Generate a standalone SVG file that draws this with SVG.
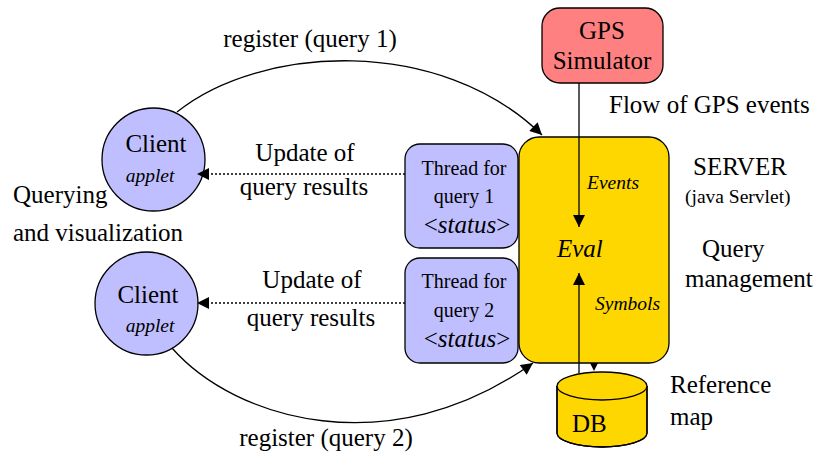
<svg xmlns="http://www.w3.org/2000/svg" width="814" height="457" viewBox="0 0 814 457" font-family="'Liberation Serif', 'DejaVu Serif', serif">
<defs>
<style>
text{font-family:"Liberation Serif","DejaVu Serif",serif;fill:#000}
.big{font-size:25px}
.mid{font-size:20px}
.sm{font-size:19.5px}
.it{font-style:italic}
.c{text-anchor:middle}
.edge{fill:none;stroke:#000;stroke-width:1.3}
.dot{fill:none;stroke:#000;stroke-width:1.3;stroke-dasharray:2,2}
.client{fill:#bfbfff;stroke:#000;stroke-width:1.3}
.thread{fill:#bfbfff;stroke:#000;stroke-width:1.3}
.server{fill:#ffd700;stroke:#000;stroke-width:1.3}
.gps{fill:#ff8080;stroke:#000;stroke-width:1.3}
</style>
<marker id="ah" viewBox="0 0 10 10" refX="10" refY="5" markerWidth="22" markerHeight="12" markerUnits="userSpaceOnUse" orient="auto">
<path d="M0,0 L10,5 L0,10 z" fill="#000"/>
</marker>
</defs>

<g id="gps">
<rect class="gps" x="542" y="8" width="121" height="75" rx="18"/>
<text class="big c" x="602" y="39">GPS</text>
<text class="big c" x="602" y="69">Simulator</text>
</g>

<g id="server">
<rect class="server" x="519" y="137" width="150" height="226" rx="20"/>
<text class="sm it" x="587" y="189">Events</text>
<text class="big it" x="557" y="257">Eval</text>
<text class="sm it" x="595" y="310">Symbols</text>
</g>

<g id="thread1">
<rect class="thread" x="405" y="144" width="113" height="104" rx="15"/>
<text class="mid c" x="464" y="175">Thread for</text>
<text class="mid c" x="464" y="203">query 1</text>
<text class="big c" x="467" y="233">&lt;<tspan class="it">status</tspan>&gt;</text>
</g>

<g id="thread2">
<rect class="thread" x="405" y="258" width="113" height="105" rx="15"/>
<text class="mid c" x="464" y="288">Thread for</text>
<text class="mid c" x="464" y="317">query 2</text>
<text class="big c" x="467" y="347">&lt;<tspan class="it">status</tspan>&gt;</text>
</g>

<g id="client1">
<circle class="client" cx="153.5" cy="159.5" r="51.5"/>
<text class="big c" x="156" y="152">Client</text>
<text class="sm it c" x="150" y="182">applet</text>
</g>

<g id="client2">
<circle class="client" cx="146.5" cy="303.5" r="51.5"/>
<text class="big c" x="148" y="303">Client</text>
<text class="sm it c" x="150" y="332">applet</text>
</g>

<g id="db">
<path class="server" d="M557,386 L557,433 A45,14 0 0 0 647,433 L647,386" stroke="none"/>
<path class="edge" d="M557,386 L557,433 A45,14 0 0 0 647,433 L647,386"/>
<ellipse class="server" cx="602" cy="386" rx="45" ry="14"/>
<text class="big" x="572" y="432">DB</text>
</g>

<g id="connectors">
<path class="edge" d="M177,112 C260,45 440,35 542,135" marker-end="url(#ah)"/>
<path class="edge" d="M172,348 C235,420 390,465 533,363" marker-end="url(#ah)"/>
<path class="dot" d="M405,174 L197,174" marker-end="url(#ah)"/>
<path class="dot" d="M405,303 L197,303" marker-end="url(#ah)"/>
<path class="edge" d="M579,83 L579,227" marker-end="url(#ah)"/>
<path class="edge" d="M579,373 L579,273" marker-end="url(#ah)"/>
<path d="M590,363 L598,363 L594,371 z" fill="#000"/>
</g>

<g id="labels">
<text class="big c" x="310" y="47">register (query 1)</text>
<text class="big c" x="305" y="161">Update of</text>
<text class="big c" x="304" y="195">query results</text>
<text class="big c" x="312" y="288">Update of</text>
<text class="big c" x="311" y="326">query results</text>
<text class="big c" x="326" y="446">register (query 2)</text>
<text class="big" x="13" y="203">Querying</text>
<text class="big" x="13" y="241">and visualization</text>
<text class="big" x="609" y="113">Flow of GPS events</text>
<text class="big" x="693" y="175">SERVER</text>
<text class="sm" x="685" y="203">(java Servlet)</text>
<text class="big" x="702" y="257">Query</text>
<text class="big" x="685" y="287">management</text>
<text class="big" x="670" y="393">Reference</text>
<text class="big" x="670" y="425">map</text>
</g>
</svg>
